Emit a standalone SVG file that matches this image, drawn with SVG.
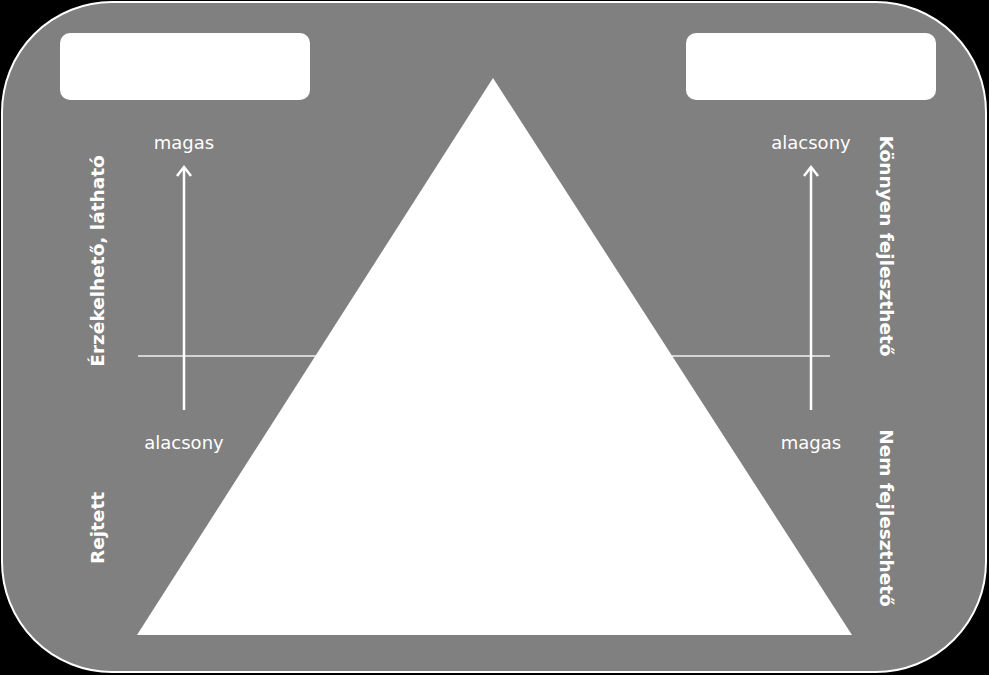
<svg xmlns="http://www.w3.org/2000/svg" width="989" height="675" viewBox="0 0 989 675">
  <style>
    .lbl { font-family: "DejaVu Sans", "Liberation Sans", sans-serif; font-size: 18px; fill: #ffffff; text-anchor: middle; }
    .side { font-family: "DejaVu Sans", "Liberation Sans", sans-serif; font-size: 18.5px; font-weight: bold; fill: #ffffff; text-anchor: middle; }
    .axis { stroke: #ffffff; stroke-width: 2.5; fill: none; }
    .head { stroke: #ffffff; stroke-width: 2.5; fill: none; stroke-linejoin: miter; }
    .hline { stroke: #d4d4d4; stroke-width: 2; fill: none; }
    .box { fill: #ffffff; }
  </style>
  <rect x="0" y="0" width="989" height="675" fill="#000000"/>
  <rect id="panel" x="2" y="2" width="984" height="670" rx="110" ry="110" fill="#808080" stroke="#ffffff" stroke-width="2"/>

  <g id="connectors">
    <line class="hline" x1="138" y1="356" x2="330" y2="356"/>
    <line class="hline" x1="660" y1="356" x2="830" y2="356"/>
    <line class="axis" x1="184" y1="410" x2="184" y2="168"/>
    <polyline class="head" points="177,176 184,167 191,176"/>
    <line class="axis" x1="811" y1="410" x2="811" y2="168"/>
    <polyline class="head" points="804,176 811,167 818,176"/>
  </g>

  <g id="box-left"><rect class="box" x="60" y="33" width="250" height="67" rx="10" ry="10"/></g>
  <g id="box-right"><rect class="box" x="686" y="33" width="250" height="67" rx="10" ry="10"/></g>

  <g id="triangle"><polygon points="493,78 852,635 137,635" fill="#ffffff"/></g>

  <g id="label-left-top"><text class="lbl" x="184" y="149">magas</text></g>
  <g id="label-left-bottom"><text class="lbl" x="184" y="449">alacsony</text></g>
  <g id="label-right-top"><text class="lbl" x="811" y="149">alacsony</text></g>
  <g id="label-right-bottom"><text class="lbl" x="811" y="449">magas</text></g>

  <g id="side-visible"><text class="side" transform="translate(104,261) rotate(-90)">Érzékelhető, látható</text></g>
  <g id="side-hidden"><text class="side" transform="translate(104,528) rotate(-90)">Rejtett</text></g>
  <g id="side-easy"><text class="side" transform="translate(880,246) rotate(90)">Könnyen fejleszthető</text></g>
  <g id="side-hard"><text class="side" transform="translate(880,518) rotate(90)">Nem fejleszthető</text></g>
</svg>
